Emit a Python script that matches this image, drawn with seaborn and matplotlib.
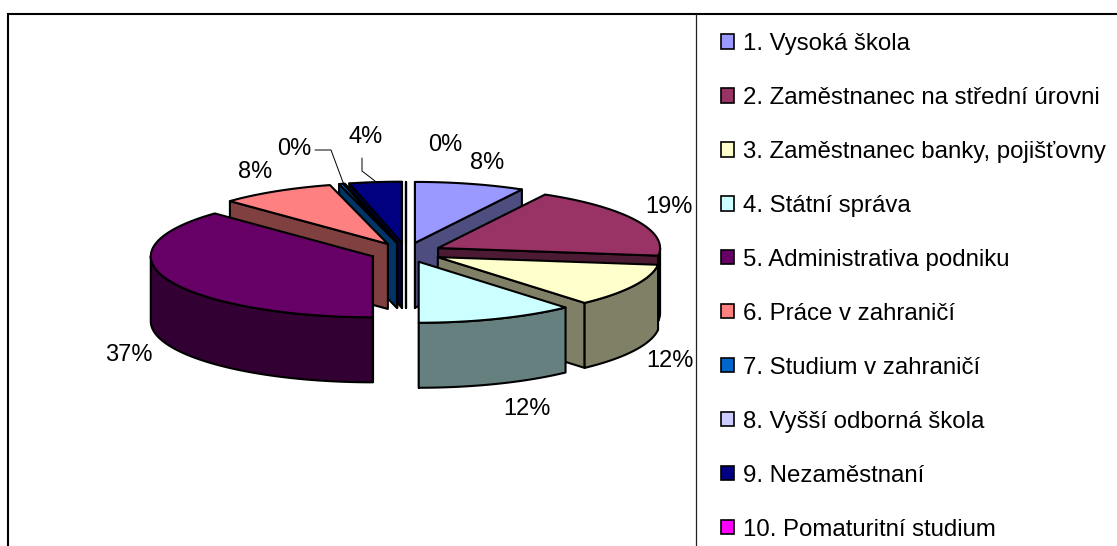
import matplotlib
matplotlib.use("Agg")
import matplotlib.pyplot as plt
import numpy as np
import seaborn as sns
from matplotlib.patches import Patch, Polygon

categories = [
    "1. Vysoká škola",
    "2. Zaměstnanec na střední úrovni",
    "3. Zaměstnanec banky, pojišťovny",
    "4. Státní správa",
    "5. Administrativa podniku",
    "6. Práce v zahraničí",
    "7. Studium v zahraničí",
    "8. Vyšší odborná škola",
    "9. Nezaměstnaní",
    "10. Pomaturitní studium",
]
values = [8.0, 19.0, 11.5, 11.5, 37.4, 8.4, 0.3, 0.1, 3.8, 0.0]
colors = ["#9999FF", "#993366", "#FFFFCC", "#CCFFFF", "#660066",
          "#FF8080", "#0066CC", "#CCCCFF", "#000080", "#FF00FF"]

sns.set_theme(style="white", rc={"text.color": "black"})
plt.rcParams["font.family"] = ["Liberation Sans", "DejaVu Sans"]
palette = sns.color_palette(colors)

FONT = 17
CX, CY = 406, 252.5   # pie centre in pixels
RX, RY = 222, 61
THICK = 65
EXPLODE = 36


def rim(apex, a0, a1):
    # points along the elliptical edge, angles clockwise from 12 o'clock
    n = max(2, int(abs(a1 - a0) * 2))
    t = np.radians(np.linspace(a0, a1, n))
    return np.column_stack([apex[0] + RX * np.sin(t), apex[1] - RY * np.cos(t)])


def draw_slice(ax, a0, a1, color):
    mid = np.radians((a0 + a1) / 2)
    apex = np.array([CX + EXPLODE * np.sin(mid), CY - EXPLODE * RY / RX * np.cos(mid)])
    side = tuple(c * 0.5 for c in color)
    style = dict(edgecolor="black", linewidth=1.5, joinstyle="round")
    down = np.array([0, THICK])

    # cut faces turned to the viewer
    for ang, normal in ((a0, a0 - 90), (a1, a1 + 90)):
        if np.cos(np.radians(normal)) < 1e-6:
            t = np.radians(ang)
            end = apex + [RX * np.sin(t), -RY * np.cos(t)]
            ax.add_patch(Polygon([apex, end, end + down, apex + down], facecolor=side, **style))

    # outer wall, only the front half of the rim shows
    lo, hi = max(a0, 90), min(a1, 270)
    if hi > lo:
        arc = rim(apex, lo, hi)
        ax.add_patch(Polygon(np.vstack([arc, (arc + down)[::-1]]), facecolor=side, **style))

    # top
    ax.add_patch(Polygon(np.vstack([apex, rim(apex, a0, a1)]), facecolor=color, **style))


fig = plt.figure(figsize=(11.17, 5.46), dpi=100)
ax = fig.add_axes([0, 0, 1, 1])
ax.set_xlim(0, 1117)
ax.set_ylim(546, 0)
ax.axis("off")

# frame and divider
ax.plot([8, 8, 1117], [546, 14, 14], color="black", lw=1.5, solid_joinstyle="miter")
ax.plot([696, 696], [14, 546], color="#222222", lw=0.9)

edges = np.cumsum([0] + values) / sum(values) * 360
slices = list(zip(edges[:-1], edges[1:], palette))
# back slices first, front ones painted over them
for a0, a1, color in sorted(slices, key=lambda s: -np.cos(np.radians((s[0] + s[1]) / 2))):
    draw_slice(ax, a0, a1, color)

# percent labels
label_pos = [(487, 163), (669, 207), (670, 361), (527, 409), (129, 355),
             (255, 172), (294, 149), (445, 145), (366, 137), (445, 145)]
for i, (v, (x, y)) in enumerate(zip(values, label_pos)):
    if i == 7:  # the 0% of the eighth slice is not shown
        continue
    ax.text(x, y, f"{round(v)}%", ha="center", va="center", fontsize=FONT, color="black")

# leader lines
ax.plot([315, 331, 344], [150, 150, 185], color="black", lw=0.7)
ax.plot([362, 362, 375], [158, 171, 181], color="black", lw=0.7)

handles = [Patch(facecolor=c, edgecolor="black", linewidth=1.2) for c in palette]
ax.legend(handles, categories, loc="upper left", bbox_to_anchor=(721 / 1117, 1 - 33 / 546),
          bbox_transform=fig.transFigure, frameon=False, fontsize=17.3, borderpad=0, borderaxespad=0,
          handlelength=0.54, handleheight=0.54, handletextpad=0.38, labelspacing=1.33)

fig.savefig("out.png", dpi=100)
